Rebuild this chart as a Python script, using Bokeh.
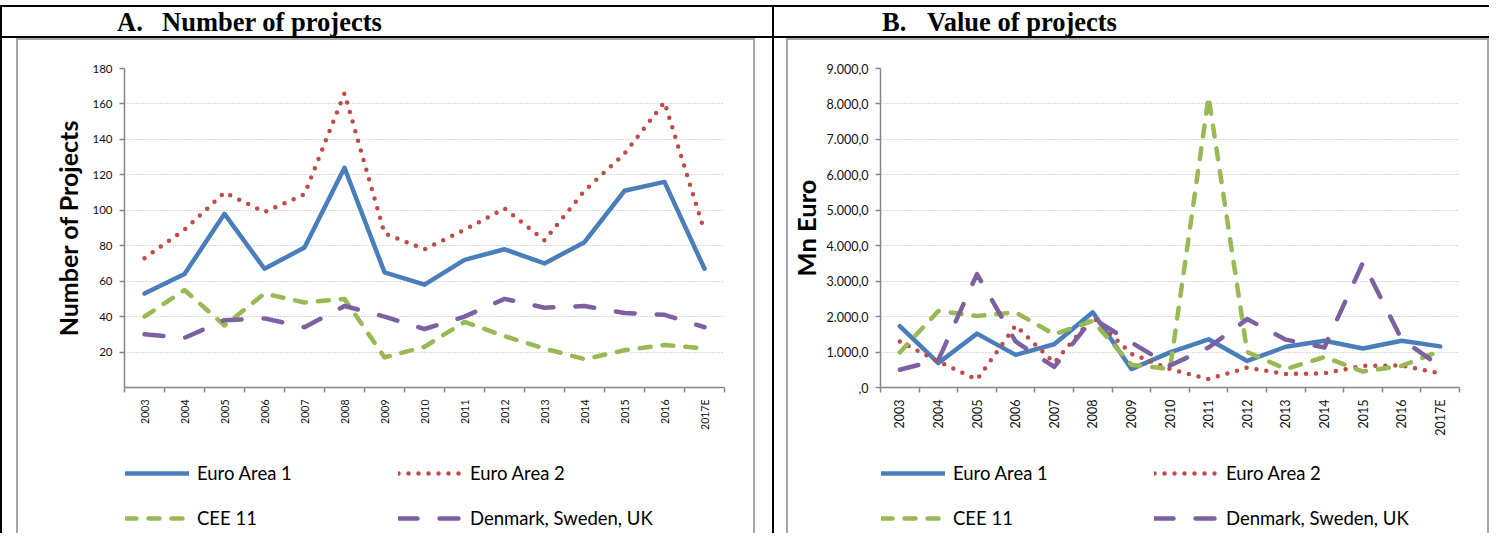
import math
import numpy as np
from bokeh.plotting import figure
from bokeh.models import (Div, Spacer, FixedTicker, Legend, LegendItem)
from bokeh.layouts import row, column
from bokeh.embed import file_html
from bokeh.resources import INLINE

# ---------------- data ----------------
years = ["2003", "2004", "2005", "2006", "2007", "2008", "2009", "2010",
         "2011", "2012", "2013", "2014", "2015", "2016", "2017E"]

# A. Number of projects
ea1_num = [53, 64, 98, 67, 79, 124, 65, 58, 72, 78, 70, 82, 111, 116, 67]
ea2_num = [73, 89, 110, 99, 109, 166, 87, 78, 89, 101, 83, 111, 132, 161, 88]
cee_num = [40, 55, 35, 53, 48, 50, 17, 23, 37, 29, 22, 16, 21, 24, 22]
dsu_num = [30, 28, 38, 39, 34, 46, 40, 33, 40, 50, 45, 46, 42, 41, 34]

# B. Value of projects (Mn Euro)
ea1_val = [1730, 690, 1520, 920, 1220, 2120, 520, 990, 1360, 750, 1150, 1320, 1100, 1320, 1160]
ea2_val = [1300, 730, 220, 1750, 700, 1980, 950, 520, 240, 560, 380, 400, 610, 620, 400]
cee_val = [990, 2160, 2020, 2120, 1500, 1880, 640, 520, 8200, 1000, 520, 860, 450, 610, 1030]
dsu_val = [500, 780, 3200, 1300, 580, 1950, 1270, 620, 1130, 1930, 1350, 1130, 3530, 1360, 600]

series_names = ["Euro Area 1", "Euro Area 2", "CEE 11", "Denmark, Sweden, UK"]

left_yticks = [20, 40, 60, 80, 100, 120, 140, 160, 180]
right_yticks = [0, 1000, 2000, 3000, 4000, 5000, 6000, 7000, 8000, 9000]
right_ylabels = [",0", "1.000,0", "2.000,0", "3.000,0", "4.000,0", "5.000,0",
                 "6.000,0", "7.000,0", "8.000,0", "9.000,0"]

# ---------------- styles ----------------
BLUE = "#4A7EBB"
RED = "#BE4B48"
GREEN = "#98B954"
PURPLE = "#7D60A0"
AXIS_GRAY = "#868686"
FRAME_GRAY = "#A6A6A6"
FONT = "Lato"

styles = [
    dict(color=BLUE, line_width=4.5, line_dash="solid", line_cap="round"),
    dict(color=RED, line_width=4.5, line_dash="0 10", line_cap="round"),
    dict(color=GREEN, line_width=4.5, line_dash="11 12", line_cap="round"),
    dict(color=PURPLE, line_width=4.5, line_dash="19 22", line_cap="round"),
]

CHART_H = 400
LEG_H = 93


def make_chart(width, bl, br, ymax, yticks, ylabels, ytitle,
               tick_fs, xtick_fs, title_fs, title_standoff, data):
    n = len(years)
    xc = list(np.arange(n) + 0.5)
    bounds = list(np.arange(n + 1).astype(float))
    p = figure(width=width, height=CHART_H, x_range=(0, n), y_range=(0, ymax),
               output_backend="svg", toolbar_location=None,
               min_border_left=bl, min_border_right=br,
               min_border_top=28, min_border_bottom=CHART_H - 28 - 319,
               margin=0)
    p.outline_line_color = None
    p.background_fill_color = "white"
    p.border_fill_color = "white"

    # x axis: labels at category centres, ticks at boundaries
    xa = p.xaxis[0]
    xa.ticker = FixedTicker(ticks=xc, minor_ticks=bounds)
    xa.major_label_overrides = {float(x): y for x, y in zip(xc, years)}
    xa.major_tick_line_color = None
    xa.minor_tick_line_color = AXIS_GRAY
    xa.minor_tick_line_width = 1.5
    xa.minor_tick_out = 5
    xa.minor_tick_in = 0
    xa.axis_line_color = AXIS_GRAY
    xa.axis_line_width = 1.5
    xa.major_label_orientation = math.pi / 2
    xa.major_label_standoff = 6
    xa.major_label_text_font = FONT
    xa.major_label_text_font_size = xtick_fs
    xa.major_label_text_color = "#111111"

    ya = p.yaxis[0]
    ya.ticker = FixedTicker(ticks=yticks)
    if ylabels is not None:
        ya.major_label_overrides = {t: l for t, l in zip(yticks, ylabels)}
    ya.major_tick_line_color = AXIS_GRAY
    ya.major_tick_line_width = 1.5
    ya.major_tick_out = 5
    ya.major_tick_in = 0
    ya.minor_tick_line_color = None
    ya.axis_line_color = AXIS_GRAY
    ya.axis_line_width = 1.5
    ya.major_label_standoff = 7
    ya.major_label_text_font = FONT
    ya.major_label_text_font_size = tick_fs
    ya.major_label_text_color = "#111111"
    ya.axis_label = ytitle
    ya.axis_label_text_font = FONT
    ya.axis_label_text_font_style = "bold"
    ya.axis_label_text_font_size = title_fs
    ya.axis_label_text_color = "black"
    ya.axis_label_standoff = title_standoff

    p.xgrid.grid_line_color = None
    p.ygrid.grid_line_color = "#B5B5B5"
    p.ygrid.grid_line_dash = "1 2"
    p.ygrid.grid_line_width = 1

    for vals, st in zip(data, styles):
        p.line(x=xc, y=vals, line_join="round", **st)
    return p


def make_legend(width, bl, br, x1, x2, data):
    # legend-only panel; its frame lines up with the chart frame above.
    # The series are drawn here too, but outside the visible y-range.
    n = len(years)
    xc = list(np.arange(n) + 0.5)
    q = figure(width=width, height=LEG_H, x_range=(0, n), y_range=(-2, -1),
               output_backend="svg", toolbar_location=None,
               x_axis_location=None, y_axis_location=None,
               min_border_left=bl, min_border_right=br, min_border_top=0,
               min_border_bottom=0, margin=0)
    q.outline_line_color = None
    q.xgrid.grid_line_color = None
    q.ygrid.grid_line_color = None
    q.border_fill_color = "white"
    q.background_fill_color = "white"
    rends = [q.line(x=xc, y=vals, **st) for vals, st in zip(data, styles)]
    common = dict(orientation="vertical", glyph_width=64, glyph_height=20,
                  label_height=20, spacing=23, padding=0, margin=0,
                  border_line_color=None, background_fill_alpha=0,
                  label_standoff=8, label_text_font=FONT,
                  label_text_font_size="18.5px", label_text_color="black",
                  label_text_baseline="middle")
    leg1 = Legend(items=[LegendItem(label=series_names[0], renderers=[rends[0]]),
                         LegendItem(label=series_names[2], renderers=[rends[2]])],
                  location=(x1, 4), **common)
    leg2 = Legend(items=[LegendItem(label=series_names[1], renderers=[rends[1]]),
                         LegendItem(label=series_names[3], renderers=[rends[3]])],
                  location=(x2, 4), **common)
    q.add_layout(leg1)
    q.add_layout(leg2)
    return q


dataA = [ea1_num, ea2_num, cee_num, dsu_num]
dataB = [ea1_val, ea2_val, cee_val, dsu_val]
pA = make_chart(735, 106, 29, 180, left_yticks, None, "Number of Projects",
                "11.5px", "10.5px", "25px", 6, dataA)
lA = make_legend(735, 106, 29, 1, 274, dataA)
pB = make_chart(699, 88, 28, 9000, right_yticks, right_ylabels, "Mn Euro",
                "12.5px", "12.5px", "25.5px", 2, dataB)
lB = make_legend(699, 88, 28, 1, 274, dataB)


def bar(w, h, color):
    return Div(width=w, height=h, text="", margin=0,
               styles={"background-color": color})


def sp(w, h):
    return Spacer(width=w, height=h, margin=0)


def header(w, letter, text, pad):
    html = ('<div style="font-family:\'Liberation Serif\';font-weight:bold;'
            'font-size:26.5px;line-height:29px;padding-left:%dpx;white-space:nowrap;'
            'color:black;margin-top:1px"><span style="display:inline-block;width:45px">%s</span>%s</div>'
            % (pad, letter, text))
    return Div(width=w, height=29, text=html, margin=0)


FIG_H = CHART_H + LEG_H


def gray_frame(fig, leg, w):
    return column(bar(w + 4, 2, FRAME_GRAY),
                  row(bar(2, FIG_H, FRAME_GRAY),
                      column(fig, leg, spacing=0, margin=0),
                      bar(2, FIG_H, FRAME_GRAY),
                      spacing=0, margin=0),
                  spacing=0, margin=0)


cellA = column(header(770, "A.", "Number of projects", 115),
               bar(770, 2, "black"),
               row(sp(14, FIG_H + 2), gray_frame(pA, lA, 735), sp(17, FIG_H + 2),
                   spacing=0, margin=0),
               spacing=0, margin=0)
cellB = column(header(715, "B.", "Value of projects", 108),
               bar(715, 2, "black"),
               row(sp(12, FIG_H + 2), gray_frame(pB, lB, 699), spacing=0, margin=0),
               spacing=0, margin=0)

page = column(sp(1489, 5),
              bar(1489, 2, "black"),
              row(bar(2, 526, "black"), cellA, bar(2, 526, "black"), cellB,
                  spacing=0, margin=0),
              spacing=0, margin=0)

open("out.html", "w").write(file_html(page, INLINE))
